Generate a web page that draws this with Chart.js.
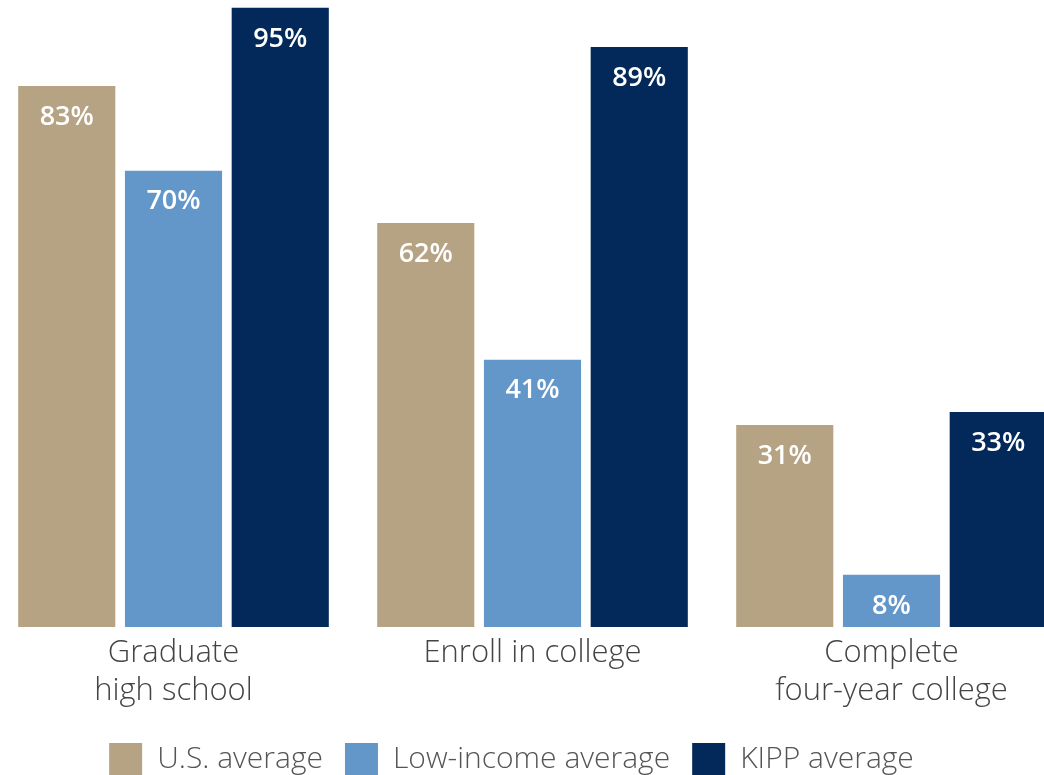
<!DOCTYPE html>
<html>
<head>
<meta charset="utf-8">
<script src="https://cdn.jsdelivr.net/npm/chart.js@4/dist/chart.umd.min.js"></script>
<style>
  html, body { margin: 0; padding: 0; background: #fff; overflow: hidden; }
  #wrap { position: absolute; left: -48px; top: 0; width: 1119px; height: 786px; }
</style>
</head>
<body>
<div id="wrap"><canvas id="chart"></canvas></div>
<script>
const categorias = [['Graduate', 'high school'], 'Enroll in college', ['Complete', 'four-year college']];
const usPromedio = [83, 62, 31];
const bajoIngreso = [70, 41, 8];
const kippPromedio = [95, 89, 33];

// etiquetas blancas dentro de cada barra
const etiquetasBarras = {
  id: 'etiquetasBarras',
  afterDatasetsDraw(chart) {
    const ctx = chart.ctx;
    ctx.save();
    ctx.font = '600 27px "Open Sans"';
    ctx.fillStyle = '#ffffff';
    ctx.textAlign = 'center';
    ctx.textBaseline = 'middle';
    chart.data.datasets.forEach((ds, i) => {
      chart.getDatasetMeta(i).data.forEach((bar, j) => {
        ctx.fillText(ds.data[j] + '%', bar.x, bar.y + 31);
      });
    });
    ctx.restore();
  }
};

new Chart(document.getElementById('chart'), {
  type: 'bar',
  data: {
    labels: categorias,
    datasets: [
      { label: 'U.S. average', data: usPromedio, backgroundColor: '#b5a383' },
      { label: 'Low-income average', data: bajoIngreso, backgroundColor: '#6397c9' },
      { label: 'KIPP average', data: kippPromedio, backgroundColor: '#02295a' }
    ]
  },
  options: {
    responsive: true,
    maintainAspectRatio: false,
    animation: false,
    categoryPercentage: 0.892,
    barPercentage: 0.91,
    layout: { padding: 0 },
    plugins: {
      legend: {
        position: 'bottom',
        labels: {
          font: { family: 'Open Sans', size: 30, weight: '300' },
          color: '#555',
          boxWidth: 33,
          boxHeight: 33,
          padding: 22
        }
      },
      tooltip: { enabled: false }
    },
    scales: {
      x: {
        grid: { display: false, drawTicks: false },
        border: { display: false },
        ticks: {
          font: { family: 'Open Sans', size: 31, weight: '300', lineHeight: 1.23 },
          color: '#444',
          padding: 7
        },
        afterFit(scale) { scale.height = 94; }
      },
      y: {
        min: 0,
        max: 96.2,
        grid: { display: false, drawTicks: false },
        border: { display: false },
        ticks: { display: false },
        afterFit(scale) { scale.width = 42; }
      }
    }
  },
  plugins: [etiquetasBarras]
});
</script>
</body>
</html>
